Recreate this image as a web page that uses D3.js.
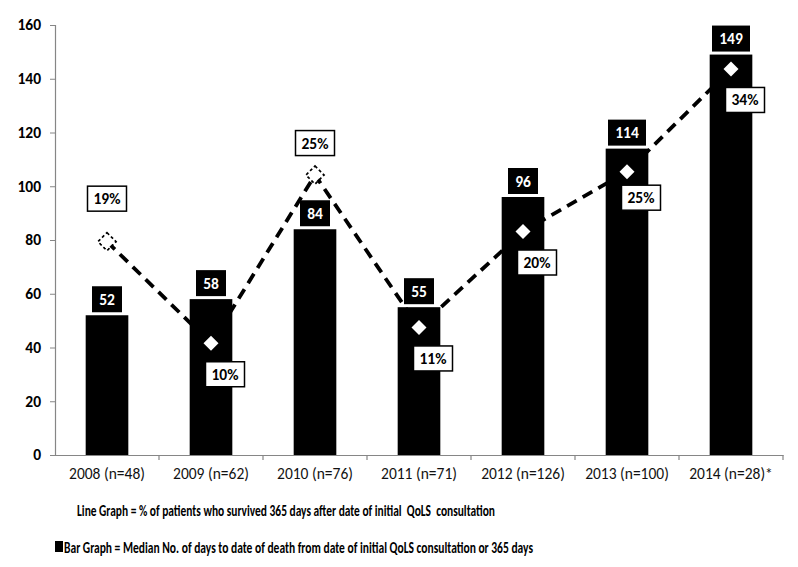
<!DOCTYPE html>
<html>
<head>
<meta charset="utf-8">
<script src="https://cdn.jsdelivr.net/npm/d3@7"></script>
<style>
  html, body { margin: 0; padding: 0; background: #fff; }
  svg { display: block; }
  text { font-family: Carlito, Lato, "Open Sans", sans-serif; }
</style>
</head>
<body>
<svg id="chart" width="798" height="567"></svg>
<script>
// ---- data ----
const categories = ["2008 (n=48)", "2009 (n=62)", "2010 (n=76)", "2011 (n=71)", "2012 (n=126)", "2013 (n=100)", "2014 (n=28)*"];
const medianDays = [52, 58, 84, 55, 96, 114, 149];
const survivalPct = [18.9, 9.9, 24.8, 11.3, 19.8, 25.1, 34.2];
const survivalLabels = ["19%", "10%", "25%", "11%", "20%", "25%", "34%"];
const yTicks = [0, 20, 40, 60, 80, 100, 120, 140, 160];
const legendLine = "Line Graph = % of patients who survived 365 days after date of initial  QoLS  consultation";
const legendBar = "Bar Graph = Median No. of days to date of death from date of initial QoLS consultation or 365 days";

(function () {
// ---- layout ----
const svg = d3.select("#chart");
const mLeft = 55, mRight = 783, mTop = 25, mBottom = 455;

const x = d3.scaleBand().domain(categories).range([mLeft, mRight]).paddingInner(0.59).paddingOuter(0.295);
const y = d3.scaleLinear().domain([0, 160]).range([mBottom, mTop]);
const y2 = d3.scaleLinear().domain([0, 160 / 4.2]).range([mBottom, mTop]);

const rows = categories.map((c, i) => ({ c, days: medianDays[i], pct: survivalPct[i], lab: survivalLabels[i], i }));
const cx = d => x(d.c) + x.bandwidth() / 2;

// y axis
const yAxis = svg.append("g").attr("transform", `translate(${mLeft},0)`)
  .call(d3.axisLeft(y).tickValues(yTicks).tickSize(5).tickPadding(9));
yAxis.select(".domain").attr("stroke", "#868686").attr("stroke-width", 1.2);
yAxis.selectAll(".tick line").attr("stroke", "#868686");
yAxis.selectAll("text").attr("font-size", 15.5).attr("font-weight", "bold").attr("fill", "#000");

// x axis
const xAxis = svg.append("g").attr("transform", `translate(0,${mBottom})`)
  .call(d3.axisBottom(x).tickSize(0).tickSizeOuter(0).tickPadding(13));
xAxis.select(".domain").attr("stroke", "#868686").attr("stroke-width", 1.2);
xAxis.selectAll("text").attr("font-size", 15.5).attr("fill", "#111");
// category separator ticks
const seps = d3.range(categories.length).map(i => x(categories[i]) - x.step() * x.paddingInner() / 2 + x.step());
xAxis.selectAll(".sep").data(seps).enter().append("line")
  .attr("x1", d => d).attr("x2", d => d).attr("y1", 0).attr("y2", 5)
  .attr("stroke", "#868686").attr("stroke-width", 1.2);

// bars
svg.append("g").selectAll("rect").data(rows).enter().append("rect")
  .attr("x", d => x(d.c)).attr("width", x.bandwidth())
  .attr("y", d => y(d.days)).attr("height", d => y(0) - y(d.days))
  .attr("fill", "#000");

// dashed line
const line = d3.line().x(cx).y(d => y2(d.pct));
svg.append("path").datum(rows).attr("d", line)
  .attr("fill", "none").attr("stroke", "#000").attr("stroke-width", 3.8)
  .attr("stroke-dasharray", "11,7");

// markers
const diamond = (d, r) => { const px = cx(d), py = y2(d.pct); return `M${px},${py - r}L${px + r},${py}L${px},${py + r}L${px - r},${py}Z`; };
svg.append("g").selectAll("path").data(rows).enter().append("path")
  .attr("d", d => diamond(d, 9))
  .attr("fill", "none").attr("stroke", "#000").attr("stroke-width", 1.8).attr("stroke-dasharray", "3,2.5");
svg.append("g").selectAll("path").data(rows).enter().append("path")
  .attr("d", d => diamond(d, 7.5))
  .attr("fill", "#fff");

// bar value labels
const barLab = svg.append("g").selectAll("g").data(rows).enter().append("g");
barLab.each(function (d) {
  const g = d3.select(this);
  const w = String(d.days).length === 3 ? 38 : 30, h = 26;
  const bx = cx(d) - w / 2, by = y(d.days) - 3 - h;
  g.append("rect").attr("x", bx).attr("y", by).attr("width", w).attr("height", h).attr("fill", "#000");
  g.append("text").attr("x", cx(d)).attr("y", by + h / 2 + 5.5).attr("text-anchor", "middle")
    .attr("font-size", 15.5).attr("font-weight", "bold").attr("fill", "#fff").text(d.days);
});

// percent labels
const above = new Set([0, 2]);
const pctLab = svg.append("g").selectAll("g").data(rows).enter().append("g");
pctLab.each(function (d) {
  const g = d3.select(this);
  const w = 39, h = 25;
  const px = cx(d), py = y2(d.pct);
  const ccx = above.has(d.i) ? px : px + 14;
  const ccy = above.has(d.i) ? py - (d.i === 0 ? 43 : 32) : py + (d.i === 5 ? 26 : 31);
  g.append("rect").attr("x", ccx - w / 2).attr("y", ccy - h / 2).attr("width", w).attr("height", h)
    .attr("fill", "#fff").attr("stroke", "#000").attr("stroke-width", 1.5);
  g.append("text").attr("x", ccx).attr("y", ccy + 5.5).attr("text-anchor", "middle")
    .attr("font-size", 15.5).attr("font-weight", "bold").attr("fill", "#000").text(d.lab);
});

// legend
svg.append("text").attr("x", 77).attr("y", 516).attr("font-size", 16.5).attr("font-weight", "bold")
  .attr("textLength", 418).attr("lengthAdjust", "spacingAndGlyphs").attr("xml:space", "preserve").text(legendLine);
svg.append("rect").attr("x", 55).attr("y", 541).attr("width", 8).attr("height", 11).attr("fill", "#000");
svg.append("text").attr("x", 64).attr("y", 553).attr("font-size", 16.5).attr("font-weight", "bold")
  .attr("textLength", 469).attr("lengthAdjust", "spacingAndGlyphs").text(legendBar);
})();
</script>
</body>
</html>
